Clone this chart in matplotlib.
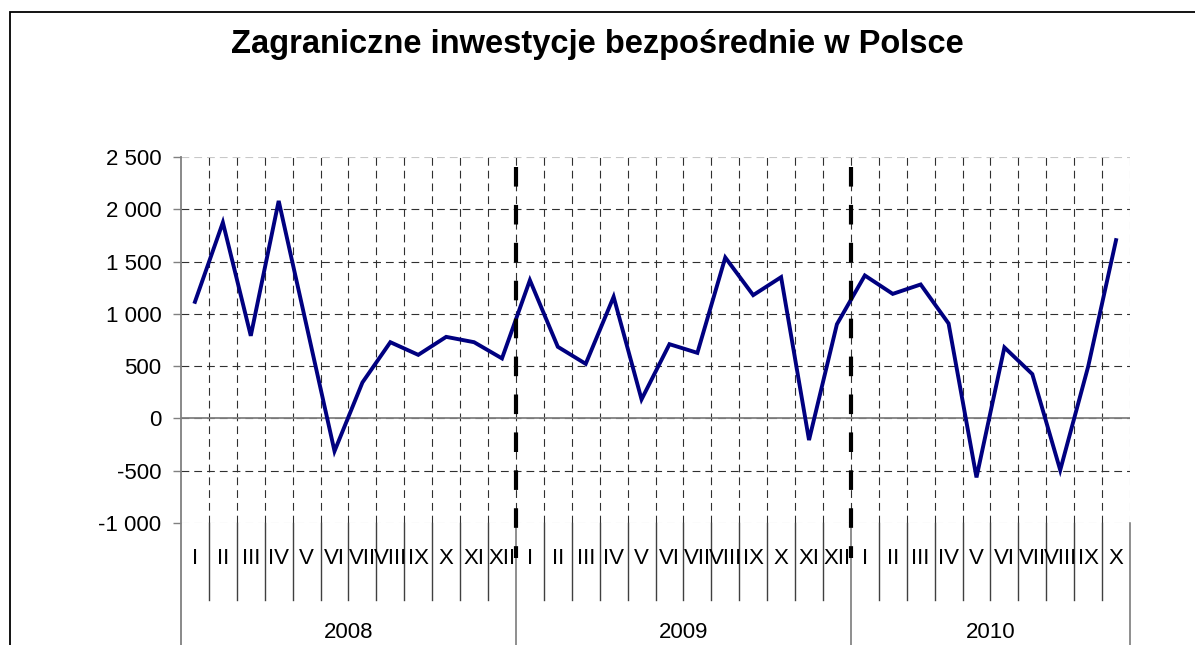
import numpy as np
import matplotlib
matplotlib.use("Agg")
import matplotlib.pyplot as plt
import matplotlib.transforms as mtransforms
from matplotlib.patches import Rectangle
from matplotlib.ticker import FuncFormatter, MultipleLocator

plt.rcParams['font.family'] = ['Liberation Sans', 'DejaVu Sans']

title = 'Zagraniczne inwestycje bezpośrednie w Polsce'
years = ['2008', '2009', '2010']
months_2008 = ['I', 'II', 'III', 'IV', 'V', 'VI', 'VII', 'VIII', 'IX', 'X', 'XI', 'XII']
months_2009 = ['I', 'II', 'III', 'IV', 'V', 'VI', 'VII', 'VIII', 'IX', 'X', 'XI', 'XII']
months_2010 = ['I', 'II', 'III', 'IV', 'V', 'VI', 'VII', 'VIII', 'IX', 'X']
fdi = [1115, 1874, 790, 2080, 885, -313, 344, 729, 608, 780, 729, 574,
       1322, 685, 522, 1163, 182, 710, 627, 1539, 1179, 1351, -207, 901,
       1367, 1191, 1281, 908, -564, 679, 424, -494, 495, 1705]
y_ticks = [-1000, -500, 0, 500, 1000, 1500, 2000, 2500]
# thick year dividers (drawn shapes in the original), value range they span
divider_top = 2400
divider_bottom = -1330

W, H = 1195, 645
fig = plt.figure(figsize=(W / 100, H / 100), dpi=100)
left, right, top, bottom = 181, 1130, 157, 523
ax = fig.add_axes([left / W, 1 - bottom / H, (right - left) / W, (bottom - top) / H])

month_groups = [months_2008, months_2009, months_2010]
labels = [m for g in month_groups for m in g]
n = len(labels)
x = np.arange(n) + 0.5

ax.set_xlim(0, n)
ax.set_ylim(y_ticks[0], y_ticks[-1])

# grid
for yv in y_ticks:
    edge = yv in (y_ticks[0], y_ticks[-1])
    ax.axhline(yv, color='#c8c8c8' if edge else '#303030', lw=0.8,
               dashes=(7, 4.5), zorder=1)
for k in range(1, n + 1):
    edge = k == n
    ax.axvline(k, color='#c8c8c8' if edge else '#303030', lw=0.8,
               dashes=(7, 4.5), zorder=1)
ax.axhline(0, color='#808080', lw=1.3, zorder=2)

# data line
ax.plot(x, fdi, color='#000080', lw=2.8, zorder=4, solid_joinstyle='miter')

# thick dividers between years
bounds = np.cumsum([len(g) for g in month_groups])
for b in bounds[:-1]:
    ax.plot([b, b], [divider_top, divider_bottom], color='black', lw=3.0,
            dashes=(4.7, 4.4), zorder=5, clip_on=False)

for s in ax.spines.values():
    s.set_visible(False)

ax.yaxis.set_major_locator(MultipleLocator(500))
ax.yaxis.set_major_formatter(FuncFormatter(lambda v, p: f"{int(v):,}".replace(',', ' ')))
ax.tick_params(axis='y', length=6, width=1, color='#808080', pad=8, labelsize=16)
ax.set_xticks([])

# category axis below the plot
tr = mtransforms.blended_transform_factory(ax.transData, ax.transAxes)
fig_bottom_ax = -(H - bottom) / (bottom - top)
ax.plot([0, 0], [1, fig_bottom_ax], transform=ax.transAxes, color='#808080',
        lw=1.3, clip_on=False, zorder=3)
for k in range(1, n + 1):
    if k in bounds:
        ax.plot([k, k], [0, fig_bottom_ax], transform=tr, color='#707070',
                lw=1.1, clip_on=False)
    else:
        ax.plot([k, k], [0, -0.21], transform=tr, color='#404040',
                lw=1.0, clip_on=False)
for xi, lab in zip(x, labels):
    ax.text(xi, -0.096, lab, transform=tr, ha='center', va='center', fontsize=16)
start = 0
for yr, b in zip(years, bounds):
    ax.text((start + b) / 2, -0.30, yr, transform=tr, ha='center', va='center', fontsize=16)
    start = b

fig.text(597 / W, 1 - 44 / H, title, ha='center', va='center',
         fontsize=23.5, fontweight='bold')

# chart area border (cut off at right and bottom in the original)
fig.patches.append(Rectangle((10 / W, -0.1), 1.2, 1 - 11.5 / H + 0.1,
                             transform=fig.transFigure, fill=False,
                             edgecolor='black', lw=1.3))

fig.savefig('out.png', dpi=100)
